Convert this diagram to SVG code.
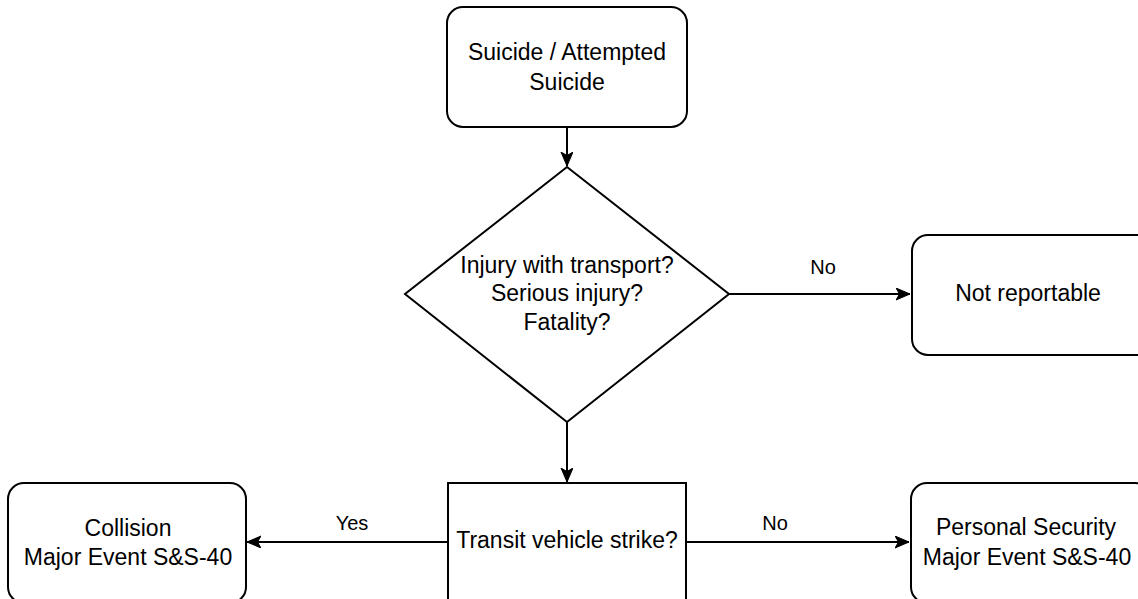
<svg xmlns="http://www.w3.org/2000/svg" width="1138" height="599" viewBox="0 0 1138 599">
  <style>
    .box { fill: #fff; stroke: #000; stroke-width: 2; }
    .t { font-family: "Liberation Sans", Arial, sans-serif; font-size: 23px; fill: #000; text-anchor: middle; }
    .lbl { font-family: "Liberation Sans", Arial, sans-serif; font-size: 20px; fill: #000; text-anchor: middle; }
    .edge { fill: none; stroke: #000; stroke-width: 2; }
  </style>
  <defs>
    <marker id="arrow" markerUnits="userSpaceOnUse" markerWidth="16" markerHeight="14" refX="14" refY="6" orient="auto">
      <path d="M0,0 L14,6 L0,12 L3.5,6 Z" fill="#000" stroke="#000" stroke-width="1"/>
    </marker>
  </defs>
  <rect width="1138" height="599" fill="#fff"/>

  <g id="edges">
    <path class="edge" d="M567,127 L567,166" marker-end="url(#arrow)"/>
    <path class="edge" d="M729,294 L910,294" marker-end="url(#arrow)"/>
    <path class="edge" d="M567,422 L567,482" marker-end="url(#arrow)"/>
    <path class="edge" d="M448,542 L247,542" marker-end="url(#arrow)"/>
    <path class="edge" d="M686,542 L909,542" marker-end="url(#arrow)"/>
    <text class="lbl" x="823" y="274">No</text>
    <text class="lbl" x="352" y="530">Yes</text>
    <text class="lbl" x="775" y="530">No</text>
  </g>

  <g id="start">
    <rect class="box" x="447" y="7" width="240" height="120" rx="16" ry="16"/>
    <text class="t" x="567" y="60">Suicide / Attempted</text>
    <text class="t" x="567" y="90">Suicide</text>
  </g>

  <g id="decision1">
    <polygon class="box" points="567,167 729,294 567,422 405,294"/>
    <text class="t" x="567" y="273">Injury with transport?</text>
    <text class="t" x="567" y="301">Serious injury?</text>
    <text class="t" x="567" y="330">Fatality?</text>
  </g>

  <g id="not-reportable">
    <rect class="box" x="912" y="235" width="240" height="120" rx="16" ry="16"/>
    <text class="t" x="1028" y="301">Not reportable</text>
  </g>

  <g id="transit">
    <rect class="box" x="448" y="483" width="238" height="120"/>
    <text class="t" x="567" y="548">Transit vehicle strike?</text>
  </g>

  <g id="collision">
    <rect class="box" x="8" y="483" width="238" height="120" rx="16" ry="16"/>
    <text class="t" x="128" y="536">Collision</text>
    <text class="t" x="128" y="565">Major Event S&amp;S-40</text>
  </g>

  <g id="personal-security">
    <rect class="box" x="911" y="483" width="240" height="120" rx="16" ry="16"/>
    <text class="t" x="1026" y="535">Personal Security</text>
    <text class="t" x="1027" y="565">Major Event S&amp;S-40</text>
  </g>
</svg>
